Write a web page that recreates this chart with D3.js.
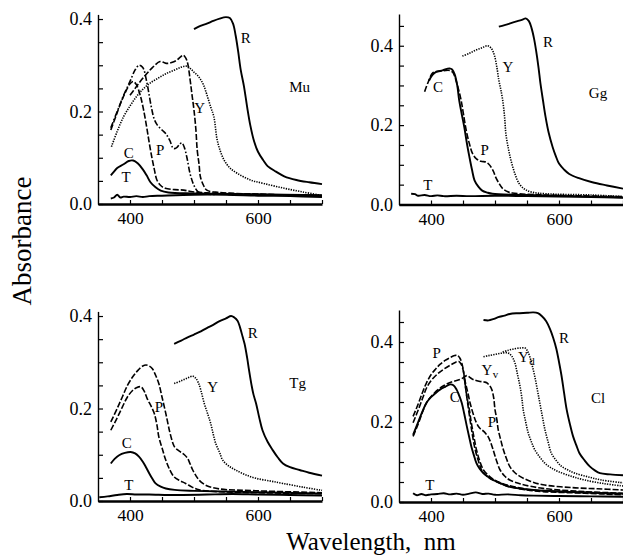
<!DOCTYPE html>
<html><head><meta charset="utf-8">
<script src="https://cdn.jsdelivr.net/npm/d3@7"></script>
<style>body{margin:0;background:#fff}svg{display:block}</style>
</head><body><svg id="c" width="623" height="556"></svg>
<script>
// ---------- DATA: [wavelength nm, absorbance] ----------
const muR=[[500,0.378],[510,0.385],[520,0.39],[530,0.396],[540,0.401],[550,0.404],[556,0.402],[561,0.39],[565,0.365],[569,0.33],[573,0.29],[578,0.255],[583,0.21],[588,0.17],[594,0.135],[600,0.113],[608,0.095],[615,0.082],[628,0.07],[641,0.06],[660,0.052],[680,0.047],[700,0.043]];
const muC=[[370,0.062],[375,0.07],[380,0.078],[390,0.086],[398,0.093],[405,0.094],[412,0.088],[420,0.075],[426,0.062],[432,0.047],[440,0.036],[448,0.029],[460,0.025],[500,0.023],[600,0.021],[700,0.019]];
const muT=[[370,0.012],[375,0.014],[380,0.02],[385,0.014],[390,0.016],[400,0.015],[410,0.017],[420,0.015],[430,0.017],[450,0.018],[500,0.02],[550,0.02],[600,0.018],[650,0.017],[700,0.015]];
const muP=[[370,0.165],[380,0.2],[390,0.235],[400,0.265],[408,0.29],[414,0.3],[420,0.295],[426,0.265],[430,0.235],[434,0.205],[438,0.183],[443,0.17],[450,0.16],[456,0.152],[462,0.138],[468,0.12],[473,0.122],[478,0.13],[481,0.132],[485,0.122],[489,0.1],[494,0.065],[500,0.04],[506,0.027],[515,0.022],[550,0.021],[700,0.018]];
const muP2=[[370,0.16],[378,0.19],[386,0.22],[394,0.245],[400,0.26],[405,0.265],[410,0.258],[416,0.235],[421,0.205],[426,0.167],[430,0.133],[434,0.102],[438,0.075],[442,0.052],[448,0.04],[455,0.034],[470,0.031],[484,0.03],[495,0.027],[520,0.024],[600,0.021],[700,0.018]];
const muY2=[[400,0.235],[408,0.25],[416,0.265],[425,0.28],[435,0.295],[447,0.308],[453,0.306],[458,0.304],[465,0.306],[473,0.311],[479,0.318],[483,0.322],[487,0.316],[490,0.305],[494,0.268],[497,0.235],[500,0.203],[503,0.16],[505,0.117],[508,0.085],[510,0.059],[515,0.04],[520,0.03],[540,0.025],[700,0.018]];
const muY=[[371,0.124],[380,0.157],[390,0.189],[400,0.212],[410,0.232],[420,0.248],[431,0.261],[445,0.273],[458,0.283],[470,0.29],[480,0.296],[489,0.298],[495,0.292],[500,0.285],[505,0.279],[510,0.27],[515,0.257],[520,0.237],[526,0.21],[531,0.189],[536,0.14],[541,0.115],[547,0.095],[556,0.078],[568,0.066],[588,0.052],[610,0.044],[641,0.034],[670,0.026],[698,0.019]];

const ggR=[[506,0.448],[515,0.452],[525,0.457],[535,0.462],[543,0.466],[548,0.469],[553,0.462],[557,0.445],[561,0.418],[564,0.39],[568,0.345],[571,0.305],[575,0.262],[579,0.221],[584,0.18],[590,0.145],[595,0.122],[600,0.103],[608,0.088],[616,0.077],[630,0.067],[652,0.056],[675,0.048],[700,0.04]];
const ggY=[[449,0.374],[460,0.381],[470,0.389],[480,0.395],[488,0.4],[494,0.394],[499,0.376],[503,0.345],[506,0.313],[509,0.29],[512,0.263],[515,0.22],[517,0.178],[521,0.14],[525,0.111],[531,0.078],[538,0.052],[547,0.038],[558,0.031],[580,0.027],[650,0.024],[700,0.02]];
const ggC=[[397,0.312],[402,0.326],[408,0.334],[418,0.338],[429,0.343],[433,0.34],[437,0.328],[441,0.3],[444,0.263],[448,0.228],[452,0.195],[456,0.155],[460,0.12],[464,0.088],[468,0.061],[474,0.045],[480,0.035],[488,0.03],[496,0.027],[550,0.024],[700,0.018]];
const ggP=[[390,0.284],[396,0.31],[403,0.332],[415,0.336],[429,0.338],[434,0.333],[439,0.313],[443,0.29],[447,0.263],[451,0.225],[455,0.187],[460,0.153],[465,0.128],[471,0.115],[478,0.109],[486,0.107],[490,0.102],[494,0.094],[498,0.082],[501,0.069],[506,0.054],[512,0.04],[520,0.032],[527,0.029],[560,0.025],[700,0.02]];
const ggT=[[369,0.027],[375,0.026],[380,0.022],[390,0.024],[400,0.021],[410,0.023],[420,0.021],[440,0.022],[460,0.021],[500,0.022],[550,0.021],[600,0.02],[650,0.019],[700,0.017]];

const tgR=[[469,0.34],[480,0.347],[490,0.354],[500,0.36],[508,0.365],[520,0.374],[530,0.381],[540,0.389],[550,0.395],[558,0.4],[563,0.397],[568,0.39],[572,0.375],[576,0.355],[579,0.34],[583,0.31],[586,0.283],[590,0.25],[593,0.23],[597,0.211],[602,0.18],[607,0.153],[615,0.128],[623,0.11],[631,0.094],[639,0.081],[650,0.073],[665,0.067],[680,0.061],[700,0.055]];
const tgY=[[469,0.254],[480,0.26],[490,0.266],[498,0.27],[503,0.265],[507,0.255],[511,0.238],[516,0.211],[521,0.19],[526,0.168],[530,0.145],[534,0.124],[540,0.105],[545,0.088],[555,0.075],[565,0.067],[580,0.057],[597,0.049],[620,0.043],[639,0.038],[670,0.03],[700,0.023]];
const tgP=[[370,0.171],[380,0.2],[388,0.225],[396,0.25],[404,0.268],[412,0.282],[420,0.292],[425,0.294],[430,0.292],[435,0.286],[440,0.272],[445,0.254],[450,0.225],[456,0.189],[462,0.15],[467,0.125],[470,0.116],[475,0.11],[479,0.106],[485,0.1],[490,0.092],[494,0.08],[498,0.067],[503,0.055],[508,0.045],[516,0.036],[524,0.031],[540,0.026],[600,0.022],[700,0.018]];
const tgP2=[[370,0.153],[380,0.18],[388,0.203],[396,0.225],[404,0.239],[410,0.245],[417,0.247],[422,0.238],[427,0.221],[433,0.205],[438,0.189],[442,0.165],[445,0.139],[450,0.115],[456,0.088],[462,0.068],[469,0.052],[478,0.044],[487,0.038],[497,0.03],[508,0.024],[540,0.02],[700,0.016]];
const tgC=[[370,0.081],[376,0.091],[383,0.099],[392,0.104],[401,0.106],[408,0.103],[414,0.096],[420,0.085],[425,0.073],[430,0.06],[435,0.048],[440,0.038],[448,0.031],[456,0.027],[470,0.024],[500,0.022],[600,0.019],[700,0.016]];
const tgT=[[352,0.008],[365,0.01],[380,0.013],[395,0.015],[410,0.014],[430,0.014],[460,0.013],[482,0.013],[520,0.014],[560,0.015],[600,0.014],[650,0.013],[700,0.012]];

const clR=[[482,0.455],[490,0.454],[497,0.457],[505,0.462],[515,0.466],[523,0.47],[535,0.472],[550,0.473],[560,0.474],[567,0.472],[573,0.465],[580,0.452],[586,0.432],[591,0.41],[596,0.382],[600,0.35],[604,0.315],[608,0.272],[612,0.231],[617,0.195],[622,0.164],[627,0.142],[632,0.122],[640,0.104],[648,0.089],[656,0.079],[664,0.072],[680,0.069],[700,0.067]];
const clYv=[[482,0.363],[490,0.366],[500,0.369],[510,0.372],[520,0.373],[526,0.365],[531,0.348],[535,0.32],[539,0.29],[542,0.26],[544,0.231],[548,0.2],[552,0.172],[557,0.15],[562,0.131],[570,0.112],[578,0.097],[588,0.085],[599,0.076],[620,0.064],[640,0.055],[670,0.046],[700,0.04]];
const clYd=[[512,0.375],[520,0.379],[530,0.383],[540,0.385],[547,0.385],[551,0.377],[554,0.365],[558,0.342],[562,0.315],[566,0.282],[570,0.248],[574,0.214],[578,0.181],[583,0.15],[588,0.122],[596,0.103],[604,0.089],[614,0.08],[625,0.072],[645,0.063],[666,0.055],[700,0.048]];
const clP=[[372,0.214],[380,0.245],[387,0.275],[393,0.298],[400,0.318],[407,0.332],[414,0.344],[422,0.354],[430,0.361],[437,0.366],[441,0.367],[445,0.36],[448,0.348],[451,0.325],[453,0.298],[457,0.25],[461,0.206],[465,0.165],[469,0.131],[474,0.103],[479,0.08],[487,0.065],[497,0.055],[510,0.045],[523,0.038],[550,0.03],[575,0.026],[640,0.022],[700,0.018]];
const clP2=[[372,0.198],[380,0.23],[387,0.26],[393,0.285],[400,0.303],[410,0.32],[419,0.331],[430,0.342],[438,0.349],[443,0.352],[447,0.345],[450,0.331],[453,0.3],[456,0.264],[460,0.23],[463,0.198],[467,0.163],[471,0.131],[476,0.103],[482,0.08],[490,0.066],[497,0.057],[510,0.047],[530,0.038],[560,0.03],[620,0.025],[700,0.02]];
const clP3=[[372,0.164],[380,0.195],[393,0.248],[405,0.272],[419,0.29],[432,0.3],[445,0.306],[452,0.312],[456,0.316],[462,0.31],[466,0.306],[475,0.302],[483,0.3],[487,0.298],[492,0.29],[495,0.281],[498,0.26],[500,0.231],[503,0.205],[505,0.181],[509,0.155],[513,0.131],[518,0.108],[523,0.089],[530,0.075],[539,0.064],[555,0.052],[575,0.043],[620,0.036],[660,0.033],[700,0.03]];
const clP4=[[452,0.31],[455,0.29],[458,0.27],[461,0.248],[466,0.22],[471,0.198],[476,0.185],[482,0.177],[486,0.17],[489,0.164],[493,0.15],[497,0.131],[502,0.105],[508,0.08],[515,0.065],[523,0.055],[540,0.045],[575,0.034],[640,0.026],[700,0.022]];
const clC=[[372,0.168],[380,0.2],[387,0.228],[393,0.248],[400,0.262],[407,0.272],[414,0.281],[422,0.288],[430,0.294],[435,0.292],[440,0.281],[444,0.266],[448,0.248],[452,0.22],[456,0.189],[460,0.16],[463,0.139],[467,0.117],[471,0.097],[476,0.083],[482,0.072],[490,0.062],[497,0.055],[510,0.046],[523,0.038],[560,0.03],[620,0.025],[700,0.021]];
const clT=[[372,0.022],[378,0.017],[385,0.02],[392,0.017],[400,0.019],[410,0.02],[420,0.022],[430,0.019],[440,0.021],[450,0.018],[460,0.021],[470,0.024],[480,0.02],[490,0.021],[500,0.018],[520,0.019],[540,0.017],[560,0.016],[600,0.015],[650,0.014],[700,0.013]];

// labels: [text, subscript, wavelength, absorbance]
const muLabels=[["R","",581,0.359],["Y","",509,0.208],["P","",447,0.117],["C","",398,0.11],["T","",394,0.058]];
const ggLabels=[["R","",583,0.409],["Y","",520,0.346],["C","",411,0.296],["P","",484,0.137],["T","",395,0.049]];
const tgLabels=[["R","",592,0.363],["Y","",529,0.246],["P","",445,0.203],["C","",395,0.125],["T","",398,0.035]];
const clLabels=[["R","",608,0.41],["Y","d",549,0.363],["Y","v",492,0.33],["P","",409,0.373],["C","",437,0.263],["P","",495,0.2],["T","",398,0.043]];
const panelNames=["Mu","Gg","Tg","Cl"];
const xTicks=[400,450,500,550,600,650,700];
const xLabeled=[400,600];
const yLabeled=[0,0.2,0.4];

// ---------- DRAW ----------
const svg=d3.select("#c");
const FONT="'Liberation Serif','Times New Roman',serif";
const styles={solid:null,dash:"6,2",dot:"1.3,1.2",dashdot:"6,2,1.6,2"};
const panels=[
 {name:panelNames[0],xr:[98,322],yr:[204,14.4],ymax:0.41,names:[665,0.253],labels:muLabels,
  curves:[[muR,"solid"],[muC,"solid"],[muT,"solid"],[muP,"dashdot"],[muP2,"dash"],[muY2,"dash"],[muY,"dot"]]},
 {name:panelNames[1],xr:[399,623],yr:[204.5,14],ymax:0.48,names:[661,0.281],labels:ggLabels,
  curves:[[ggR,"solid"],[ggY,"dot"],[ggC,"solid"],[ggP,"dash"],[ggT,"solid"]]},
 {name:panelNames[2],xr:[98,322],yr:[501,311.4],ymax:0.41,names:[662,0.255],labels:tgLabels,
  curves:[[tgR,"solid"],[tgY,"dot"],[tgP,"dash"],[tgP2,"dash"],[tgC,"solid"],[tgT,"solid"]]},
 {name:panelNames[3],xr:[399,623],yr:[502,310],ymax:0.48,names:[661,0.26],labels:clLabels,
  curves:[[clR,"solid"],[clYv,"dot"],[clYd,"dot"],[clP,"dash"],[clP2,"dash"],[clP3,"dash"],[clP4,"dash"],[clC,"solid"],[clT,"solid"]]}
];

panels.forEach(p=>{
  const x=d3.scaleLinear().domain([350,700]).range(p.xr);
  const y=d3.scaleLinear().domain([0,p.ymax]).range(p.yr);
  const g=svg.append("g");
  const line=d3.line().x(d=>x(d[0])).y(d=>y(d[1])).curve(d3.curveCatmullRom.alpha(0.5));
  p.curves.forEach(([data,st])=>{
    g.append("path").attr("d",line(data)).attr("fill","none").attr("stroke","#000")
     .attr("stroke-width",st==="solid"?1.9:1.6).attr("stroke-dasharray",styles[st]);
  });
  // y axis
  const yt=d3.range(0,p.ymax+1e-9,0.05).map(v=>+v.toFixed(2));
  const ya=g.append("g").attr("transform",`translate(${p.xr[0]},0)`)
    .call(d3.axisLeft(y).tickValues(yt).tickSizeInner(-5).tickSizeOuter(0).tickPadding(6)
      .tickFormat(d=>yLabeled.some(v=>Math.abs(v-d)<1e-6)?d3.format(".1f")(d):""));
  ya.select(".domain").attr("stroke-width",1.4);
  ya.selectAll(".tick line").attr("stroke-width",1.2);
  ya.selectAll("text").attr("font-family",FONT).attr("font-size",18).attr("fill","#000");
  // x axis
  const xa=g.append("g").attr("transform",`translate(0,${p.yr[0]})`)
    .call(d3.axisBottom(x).tickValues(xTicks).tickSizeInner(-4).tickSizeOuter(0).tickPadding(8)
      .tickFormat(d=>xLabeled.includes(d)?d:""));
  xa.select(".domain").attr("stroke-width",2.6);
  xa.selectAll(".tick line").attr("stroke-width",1.2);
  xa.selectAll("text").attr("font-family",FONT).attr("font-size",17.5).attr("fill","#000");
  // labels
  p.labels.forEach(([t,sub,wx,wy])=>{
    const tx=g.append("text").attr("x",x(wx)).attr("y",y(wy)+5).attr("text-anchor","middle")
      .attr("font-family",FONT).attr("font-size",15).text(t);
    if(sub) tx.append("tspan").attr("font-size",11).attr("dx",0.5).attr("dy",3).text(sub);
  });
  g.append("text").attr("x",x(p.names[0])).attr("y",y(p.names[1])+5).attr("text-anchor","middle")
    .attr("font-family",FONT).attr("font-size",15).text(p.name);
});

svg.append("text").attr("transform","translate(31,241) rotate(-90)").attr("text-anchor","middle")
  .attr("font-family",FONT).attr("font-size",27).text("Absorbance");
svg.append("text").attr("x",371).attr("y",549.5).attr("text-anchor","middle")
  .attr("font-family",FONT).attr("font-size",25).attr("xml:space","preserve").text("Wavelength,  nm");
</script></body></html>
